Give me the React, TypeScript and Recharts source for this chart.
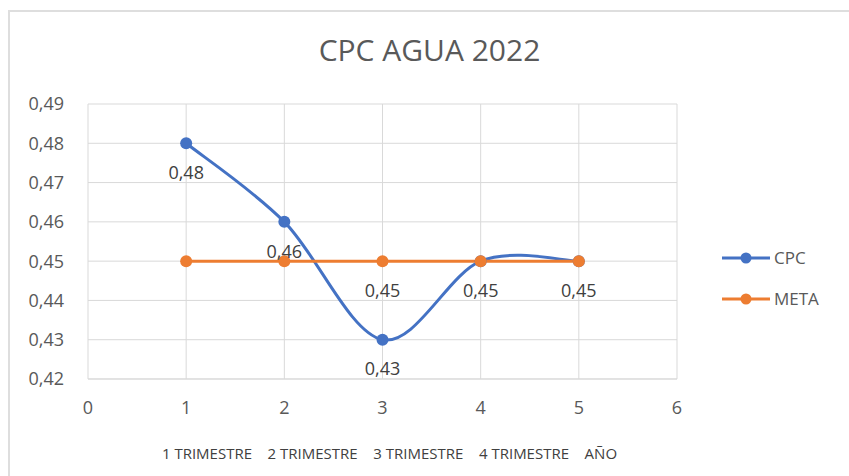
import React from "react";
import { LineChart, Line, XAxis, YAxis, CartesianGrid, Legend, LabelList } from "recharts";

const xPositions = [1, 2, 3, 4, 5];
const cpcValues = [0.48, 0.46, 0.43, 0.45, 0.45];
const metaValues = [0.45, 0.45, 0.45, 0.45, 0.45];
const metaLabelValues = [null, null, 0.45, null, null];
const xTicks = [0, 1, 2, 3, 4, 5, 6];
const yTicks = [0.42, 0.43, 0.44, 0.45, 0.46, 0.47, 0.48, 0.49];
const categoryLabels = ["1 TRIMESTRE", "2 TRIMESTRE", "3 TRIMESTRE", "4 TRIMESTRE", "AÑO"];
const title = "CPC AGUA 2022";

const data = xPositions.map((x, i) => ({
  x,
  CPC: cpcValues[i],
  META: metaValues[i],
  META_LABEL: metaLabelValues[i],
}));

const FONT = "'Open Sans', 'Noto Sans', sans-serif";
const fmt = (v: any) => (v === null || v === undefined ? "" : Number(v).toFixed(2).replace(".", ","));

// Excel-style smoothed line (Catmull-Rom Bezier, 1/6 tangents)
const excelSmooth = (context: any) => {
  let pts: number[][] = [];
  return {
    areaStart() {},
    areaEnd() {},
    lineStart() {
      pts = [];
    },
    point(x: number, y: number) {
      pts.push([+x, +y]);
    },
    lineEnd() {
      const n = pts.length;
      if (!n) return;
      context.moveTo(pts[0][0], pts[0][1]);
      for (let i = 0; i < n - 1; i++) {
        const p0 = pts[Math.max(i - 1, 0)];
        const p1 = pts[i];
        const p2 = pts[i + 1];
        const p3 = pts[Math.min(i + 2, n - 1)];
        context.bezierCurveTo(
          p1[0] + (p2[0] - p0[0]) / 6,
          p1[1] + (p2[1] - p0[1]) / 6,
          p2[0] - (p3[0] - p1[0]) / 6,
          p2[1] - (p3[1] - p1[1]) / 6,
          p2[0],
          p2[1]
        );
      }
    },
  };
};

const legendItems = [
  { name: "CPC", color: "#4472C4" },
  { name: "META", color: "#ED7D31" },
];

const LegendContent = () => (
  <div style={{ fontFamily: FONT }}>
    {legendItems.map((it) => (
      <div key={it.name} style={{ display: "flex", alignItems: "center", height: 41 }}>
        <svg width={50} height={12}>
          <line x1={0} y1={6} x2={48} y2={6} stroke={it.color} strokeWidth={3} />
          <circle cx={24} cy={6} r={5.5} fill={it.color} />
        </svg>
        <span style={{ fontSize: 17, color: "#595959", marginLeft: 2 }}>{it.name}</span>
      </div>
    ))}
  </div>
);

const labelStyle = { fill: "#404040", fontSize: 18, fontFamily: FONT };

export default function App() {
  return (
    <div style={{ position: "fixed", left: 0, top: 0, width: 849, height: 476, overflow: "hidden", background: "#fff" }}>
      <div
        style={{
          position: "absolute",
          left: 8,
          top: 10,
          width: 900,
          height: 500,
          borderLeft: "2px solid #dedede",
          borderTop: "2px solid #dedede",
        }}
      />
      <div
        style={{
          position: "absolute",
          left: 0,
          width: 849,
          top: 30,
          textAlign: "center",
          fontFamily: FONT,
          fontSize: 30,
          lineHeight: "40px",
          color: "#595959",
          paddingLeft: 10,
          boxSizing: "border-box",
        }}
      >
        {title}
      </div>
      <div style={{ position: "absolute", left: 8, top: 8 }}>
        <LineChart width={841} height={468} data={data} margin={{ top: 96, right: 42, bottom: 0, left: 0 }}>
          <CartesianGrid stroke="#d9d9d9" strokeWidth={1} />
          <XAxis
            dataKey="x"
            type="number"
            domain={[0, 6]}
            ticks={xTicks}
            height={97}
            axisLine={{ stroke: "#d9d9d9" }}
            tickLine={false}
            tickSize={0}
            tickMargin={22}
            tick={{ fill: "#595959", fontSize: 18, fontFamily: FONT }}
            label={{
              value: categoryLabels.join("\u00A0\u00A0\u00A0\u00A0"),
              position: "insideBottom",
              offset: 17,
              dx: 7,
              style: { fill: "#404040", fontSize: 15, fontFamily: FONT },
            }}
          />
          <YAxis
            type="number"
            domain={[0.42, 0.49]}
            ticks={yTicks}
            width={80}
            axisLine={false}
            tickLine={false}
            tickSize={0}
            tickMargin={24}
            tickFormatter={fmt}
            tick={{ fill: "#595959", fontSize: 18, fontFamily: FONT }}
          />
          <Legend
            layout="vertical"
            verticalAlign="top"
            align="right"
            content={<LegendContent />}
            wrapperStyle={{ left: 714, top: 229, width: 130 }}
          />
          <Line
            type={excelSmooth as any}
            dataKey="CPC"
            stroke="#4472C4"
            strokeWidth={3}
            dot={{ r: 6, fill: "#4472C4", stroke: "#4472C4", strokeWidth: 0 }}
            isAnimationActive={false}
          />
          <Line
            type={excelSmooth as any}
            dataKey="META"
            stroke="#ED7D31"
            strokeWidth={3}
            dot={{ r: 6, fill: "#ED7D31", stroke: "#ED7D31", strokeWidth: 0 }}
            isAnimationActive={false}
          />
          <Line
            dataKey="CPC"
            stroke="none"
            dot={false}
            activeDot={false}
            legendType="none"
            isAnimationActive={false}
          >
            <LabelList dataKey="CPC" position="bottom" offset={23} formatter={fmt} style={labelStyle} />
          </Line>
          <Line
            dataKey="META"
            stroke="none"
            dot={false}
            activeDot={false}
            legendType="none"
            isAnimationActive={false}
          >
            <LabelList dataKey="META_LABEL" position="bottom" offset={23} formatter={fmt} style={labelStyle} />
          </Line>
        </LineChart>
      </div>
    </div>
  );
}
